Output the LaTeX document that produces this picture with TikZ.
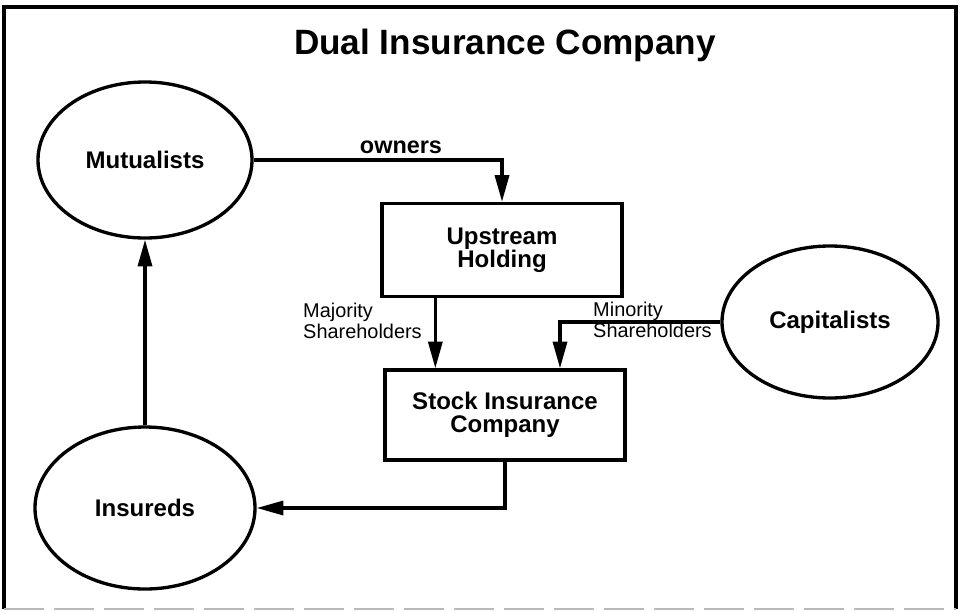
\documentclass[tikz,border=0pt]{standalone}
\usepackage{fontspec}
\setmainfont{Liberation Sans}
\usepackage{tikz}
\usetikzlibrary{shapes, positioning, arrows.meta, calc}
\tikzstyle{party}=[ellipse, draw=black, line width=1mm, inner sep=0pt,
  font=\fontsize{20.5}{22}\selectfont\bfseries]
\tikzstyle{firm}=[rectangle, draw=black, line width=1mm, minimum width=7.2cm,
  align=center, font=\fontsize{20.5}{20}\selectfont\bfseries]
\tikzstyle{arrow}=[-{Triangle[length=8mm, width=4.2mm]}, line width=1mm, draw=black]
\tikzstyle{flowLabel}=[font=\fontsize{20}{22}\selectfont\bfseries, inner sep=0pt]
\tikzstyle{shareLabel}=[font=\fontsize{17}{18}\selectfont, align=left,
  inner sep=0pt, anchor=west]
\tikzstyle{frame}=[draw=black, line width=1mm]

\begin{document}
\begin{tikzpicture}[x=0.03cm, y=-0.03cm]
  \useasboundingbox (0,0) rectangle (961,612);
  \draw[frame] (4,609) -- (4,7) -- (956,7) -- (956,609);
  \draw[gray!55, line width=0.8mm, dash pattern=on 12mm off 3mm] (4,609) -- (956,609);

  \node[font=\fontsize{30}{36}\selectfont\bfseries] (title) at (505,45) {Dual Insurance Company};

  \node[party, minimum width=6.42cm, minimum height=4.68cm] (mutualists) at (145,160) {Mutualists};
  \node[party, minimum width=6.6cm, minimum height=4.86cm] (insureds) at (145,508) {Insureds};
  \node[party, minimum width=6.48cm, minimum height=4.56cm] (capitalists) at (830,322) {Capitalists};
  \node[firm, minimum height=2.79cm] (upstream) at (502,250) {Upstream\\Holding};
  \node[firm, minimum height=2.7cm] (stock) at (505,415) {Stock Insurance\\Company};

  \node[flowLabel] (owners) at (401,147) {owners};
  \node[shareLabel] (majority) at (303,321) {Majority\\Shareholders};
  \node[shareLabel] (minority) at (593,320) {Minority\\Shareholders};

  \draw[arrow] (mutualists.east) -| (upstream.north);
  \draw[arrow] ([xshift=-2cm]upstream.south) -- ([xshift=-2cm]upstream.south |- stock.north);
  \draw[arrow] (capitalists.west) -| ([xshift=1.65cm]stock.north);
  \draw[arrow] (stock.south) |- (insureds.east);
  \draw[arrow] (insureds.north) -- (mutualists.south);
\end{tikzpicture}
\end{document}
